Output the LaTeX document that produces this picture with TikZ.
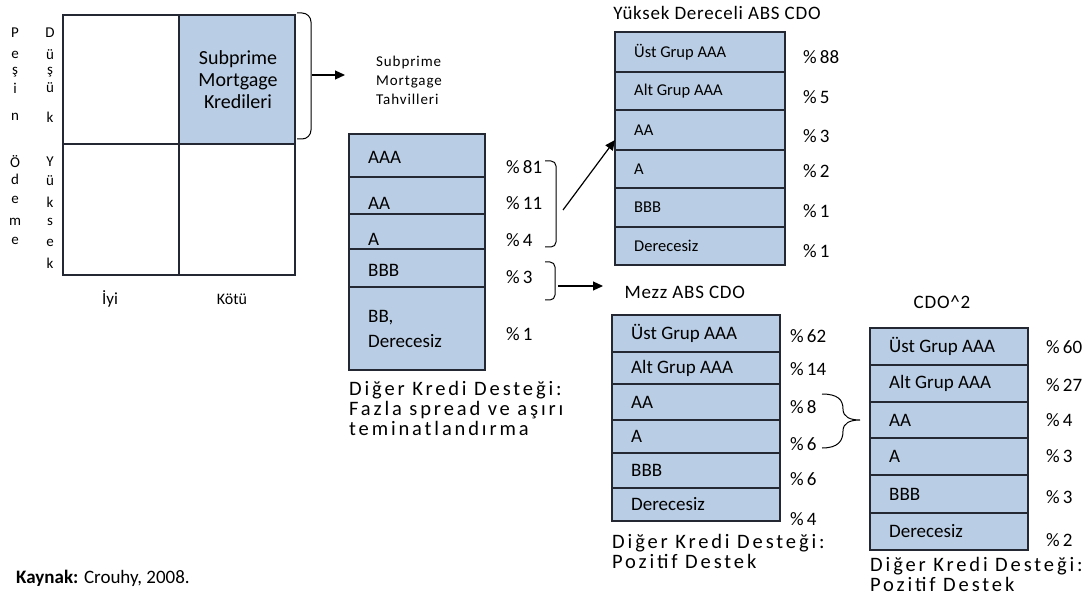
\documentclass[tikz,border=0pt]{standalone}
\usepackage{fontspec}
\setmainfont{Carlito}
\usetikzlibrary{arrows.meta}
\definecolor{tranchefill}{RGB}{185, 205, 228}
\definecolor{tranchedraw}{RGB}{35, 40, 50}

\begin{document}
\begin{tikzpicture}[x=1pt, y=-1pt,
    cell/.style={draw=tranchedraw, line width=1.3pt},
    tranche/.style={draw=tranchedraw, fill=tranchefill, line width=1.3pt},
    rowlab/.style={anchor=west, inner sep=0pt, align=left, font=\fontsize{19}{25}\selectfont},
    smallrow/.style={anchor=west, inner sep=0pt, font=\fontsize{16.5}{18}\selectfont},
    pct/.style={anchor=west, inner sep=0pt, font=\fontsize{19}{20}\selectfont},
    letter/.style={inner sep=0pt, font=\fontsize{15}{15}\selectfont},
    caption/.style={anchor=north west, inner sep=0pt, align=left, font=\fontsize{20.5}{20}\selectfont\addfontfeature{LetterSpace=14}},
    title/.style={font=\fontsize{19}{20}\selectfont\addfontfeature{LetterSpace=4}},
    bracket/.style={draw=black, line width=1pt, rounded corners=5pt},
    link/.style={-{Triangle[length=10pt,width=9pt]}, line width=1.2pt}]
  \useasboundingbox (0,0) rectangle (1092,612);

  % Borrower grid
  \fill[tranchefill] (179,15) rectangle (295,144);
  \draw[cell] (63,15) rectangle (295,275);
  \draw[cell] (179,15) -- (179,275);
  \draw[cell] (63,144) -- (295,144);
  \draw[tranchedraw, line width=2.4pt] (179,15) rectangle (295,144);
  \node[align=center, font=\fontsize{20}{22}\selectfont] (kredi) at (238,80) {Subprime\\Mortgage\\Kredileri};

  % Axis letters
  \foreach \c/\yy [count=\i] in {P/33, e/55, ş/72, i/88, n/117, Ö/162, d/179, e/200, m/222, e/241}
    \node[letter] (pl\i) at (15,\yy) {\c};
  \foreach \c/\yy [count=\i] in {D/33, ü/55, ş/72, ü/88, k/117, Y/162, ü/181, k/202, s/222, e/243, k/263}
    \node[letter] (dl\i) at (50,\yy) {\c};
  \node[font=\fontsize{17}{18}\selectfont] (iyi) at (110,299) {İyi};
  \node[font=\fontsize{16}{18}\selectfont] (kotu) at (232,299) {Kötü};

  % Grid bracket and arrow
  \draw[bracket, rounded corners=9pt] (297,13) -- (311,13) -- (311,139) -- (297,139);
  \coordinate (gtip) at (312,75);
  \coordinate (gend) at (345,75);
  \draw[link] (gtip) -- (gend);
  \node[anchor=north west, inner sep=0pt, align=left, font=\fontsize{15}{19}\selectfont\addfontfeature{LetterSpace=6}] (tahvil) at (376,56) {Subprime\\Mortgage\\Tahvilleri};

  % Subprime Mortgage Tahvilleri tranches
  \foreach \t/\b/\lab/\dy [count=\i] in {134/177/AAA/2, 177/214/AA/8, 214/249/A/8, 249/287/BBB/2, 287/370/{BB,\\Derecesiz}/0}
  {
    \draw[tranche] (349,\t) rectangle (485,\b);
    \node[rowlab] (smt\i) at (368,{(\t+\b)/2+\dy}) {\lab};
  }
  \foreach \p/\yy [count=\i] in {81/167, 11/203, 4/240, 3/277, 1/334}
    \node[pct] (smtp\i) at (506,\yy) {\%\,\p};
  \node[caption] (smtcap) at (349,381) {Diğer Kredi Desteği:\\Fazla spread ve aşırı\\teminatlandırma};

  % Brackets towards the CDOs
  \draw[bracket] (545,161) -- (556,161) -- (556,247) -- (545,247);
  \draw[bracket] (545,262) -- (555,262) -- (555,300) -- (545,300);
  \coordinate (ytip) at (563,210);
  \coordinate (mtip) at (558,286);

  % Yuksek Dereceli ABS CDO
  \node[title] (ydtitle) at (717,13) {Yüksek Dereceli ABS CDO};
  \foreach \t/\b/\lab [count=\i] in {32/72/{Üst Grup AAA}, 72/110/{Alt Grup AAA}, 110/150/AA, 150/188/A, 188/227/BBB, 227/265/Derecesiz}
  {
    \draw[tranche] (615,\t) rectangle (785,\b);
    \node[smallrow] (yd\i) at (634,{(\t+\b)/2}) {\lab};
  }
  \foreach \p/\yy [count=\i] in {88/57, 5/97, 3/136, 2/171, 1/211, 1/251}
    \node[pct] (ydp\i) at (803,\yy) {\%\,\p};
  \draw[link] (ytip) -- ([yshift=-10pt]yd3.west -| 615,0);

  % Mezz ABS CDO
  \node[title, anchor=west] (mztitle) at (621,292) {Mezz ABS CDO};
  \draw[link] (mtip) -- (603,286);
  \foreach \t/\b/\lab [count=\i] in {315/352/{Üst Grup AAA}, 352/384/{Alt Grup AAA}, 384/420/AA, 420/453/A, 453/488/BBB, 488/521/Derecesiz}
  {
    \draw[tranche] (612,\t) rectangle (780,\b);
    \node[rowlab] (mz\i) at (631,{(\t+\b)/2}) {\lab};
  }
  \foreach \p/\yy [count=\i] in {62/336, 14/369, 8/407, 6/444, 6/479, 4/519}
    \node[pct] (mzp\i) at (790,\yy) {\%\,\p};
  \node[caption] (mzcap) at (612,534) {Diğer Kredi Desteği:\\Pozitif Destek};

  % Curly brace to CDO^2
  \draw[line width=1pt] (822,394) .. controls (838,394) and (843,400) .. (843,409)
    .. controls (843,417) and (850,420) .. (860,420)
    .. controls (850,420) and (843,423) .. (843,431)
    .. controls (843,441) and (838,448) .. (822,448);

  % CDO^2
  \node[title] (sqtitle) at (942,302) {CDO\^{}2};
  \foreach \t/\b/\lab [count=\i] in {328/365/{Üst Grup AAA}, 365/402/{Alt Grup AAA}, 402/438/AA, 438/475/A, 475/513/BBB, 513/550/Derecesiz}
  {
    \draw[tranche] (870,\t) rectangle (1028,\b);
    \node[rowlab] (sq\i) at (889,{(\t+\b)/2}) {\lab};
  }
  \foreach \p/\yy [count=\i] in {60/347, 27/385, 4/420, 3/456, 3/497, 2/540}
    \node[pct] (sqp\i) at (1046,\yy) {\%\,\p};
  \node[caption] (sqcap) at (870,557) {Diğer Kredi Desteği:\\Pozitif Destek};

  % Source
  \node[anchor=west, inner sep=0pt, font=\fontsize{19}{20}\selectfont] (kaynak) at (16,578) {\textbf{Kaynak:} Crouhy, 2008.};
\end{tikzpicture}
\end{document}
